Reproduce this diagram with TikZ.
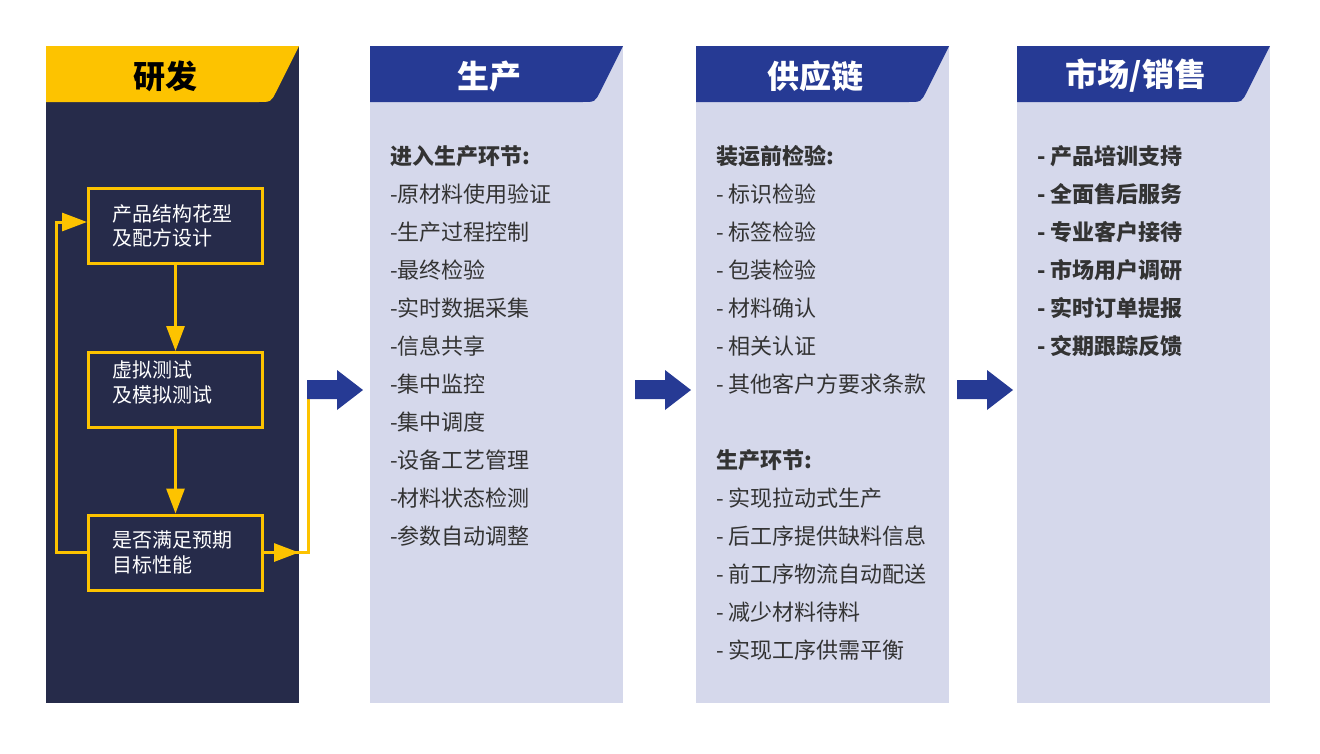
\documentclass[tikz,border=0pt]{standalone}
\usepackage{fontspec}
\setmainfont{Noto Sans CJK SC}
\usetikzlibrary{arrows.meta}
\definecolor{rdnavy}{HTML}{262B4A}
\definecolor{rdyellow}{HTML}{FDC300}
\definecolor{hdblue}{HTML}{263A94}
\definecolor{bodylav}{HTML}{D5D8EB}
\definecolor{txtgray}{HTML}{333333}
\tikzset{
  hdtitle/.style={inner sep=0pt,font=\fontsize{32}{36}\selectfont\bfseries},
  item/.style={anchor=west,inner sep=0pt,text=txtgray,font=\fontsize{22}{26}\selectfont},
  itembold/.style={item,font=\fontsize{22}{26}\selectfont\bfseries},
  stagebox/.style={draw=rdyellow,line width=3pt,minimum width=174pt,minimum height=75pt,inner sep=0pt},
  boxtext/.style={anchor=west,inner sep=0pt,align=left,text=white,font=\fontsize{20}{24.5}\selectfont},
  flow/.style={rdyellow,line width=3pt,-{Triangle[length=25pt,width=18pt]}},
}
\begin{document}
\begin{tikzpicture}[x=1pt,y=-1pt]
  \useasboundingbox (0,0) rectangle (1320,753);
  % research column
  \fill[rdnavy] (46,46) rectangle (299,703);
  \fill[rdyellow] (46,46) -- (299,46) -- (276,92) .. controls (271,102) .. (258,102) -- (46,102) -- cycle;
  \node[hdtitle,text=black] (h46) at (165,76) {研发};
  % other columns
  \foreach \x/\title in {370/生产, 696/供应链, 1017/{市场/销售}} {
    \fill[bodylav] (\x,46) rectangle (\x+253,703);
    \fill[hdblue] (\x,46) -- (\x+253,46) -- (\x+230,92) .. controls (\x+225,102) .. (\x+212,102) -- (\x,102) -- cycle;
    \node[hdtitle,text=white] (h\x) at (\x+119,76) {\title};
  }

  \node[stagebox] (b1) at (175.5,226) {};
  \node[stagebox] (b2) at (175.5,390) {};
  \node[stagebox] (b3) at (175.5,552.5) {};
  \node[boxtext] (t1) at (112,226) {产品结构花型\\及配方设计};
  \node[boxtext] (t2) at (112,382.5) {虚拟测试\\及模拟测试};
  \node[boxtext] (t3) at (112,552.5) {是否满足预期\\目标性能};

  \draw[flow] (b1.south) -- (b2.north);
  \draw[flow] (b2.south) -- (b3.north);
  \draw[flow] (b3.west) -- ++(-31,0) |- ([yshift=4pt]b1.west);

  \coordinate (tip) at (299,552.5);
  \coordinate (turn) at (308.5,552.5);
  \coordinate (inlet) at (308.5,399);
  \draw[rdyellow,line width=3pt] (b3.east) -- (turn) -- (inlet);
  \draw[flow] (b3.east) -- (tip);

  \foreach \x in {307, 635, 957}
  \fill[hdblue] (\x,380) -- +(30,0) -- +(30,-10) -- +(56,10) -- +(30,30) -- +(30,19) -- +(0,19) -- cycle;

  % production list
  \node[itembold] (p0) at (390,156) {进入生产环节:};
  \foreach \t [count=\i] in {-原材料使用验证, -生产过程控制, -最终检验, -实时数据采集, -信息共享,
    -集中监控, -集中调度, -设备工艺管理, -材料状态检测, -参数自动调整}
  \node[item] (p\i) at (390,156+38*\i) {\t};

  % supply chain list
  \node[itembold] (s0) at (716,156) {装运前检验:};
  \foreach \t [count=\i] in {- 标识检验, - 标签检验, - 包装检验, - 材料确认, - 相关认证, - 其他客户方要求条款}
  \node[item] (s\i) at (716,156+38*\i) {\t};
  \node[itembold] (q0) at (716,460) {生产环节:};
  \foreach \t [count=\i] in {- 实现拉动式生产, - 后工序提供缺料信息, - 前工序物流自动配送, - 减少材料待料, - 实现工序供需平衡}
  \node[item] (q\i) at (716,460+38*\i) {\t};

  % market list
  \foreach \t [count=\i] in {- 产品培训支持, - 全面售后服务, - 专业客户接待, - 市场用户调研, - 实时订单提报, - 交期跟踪反馈}
  \node[itembold] (m\i) at (1037,118+38*\i) {\t};
\end{tikzpicture}
\end{document}
